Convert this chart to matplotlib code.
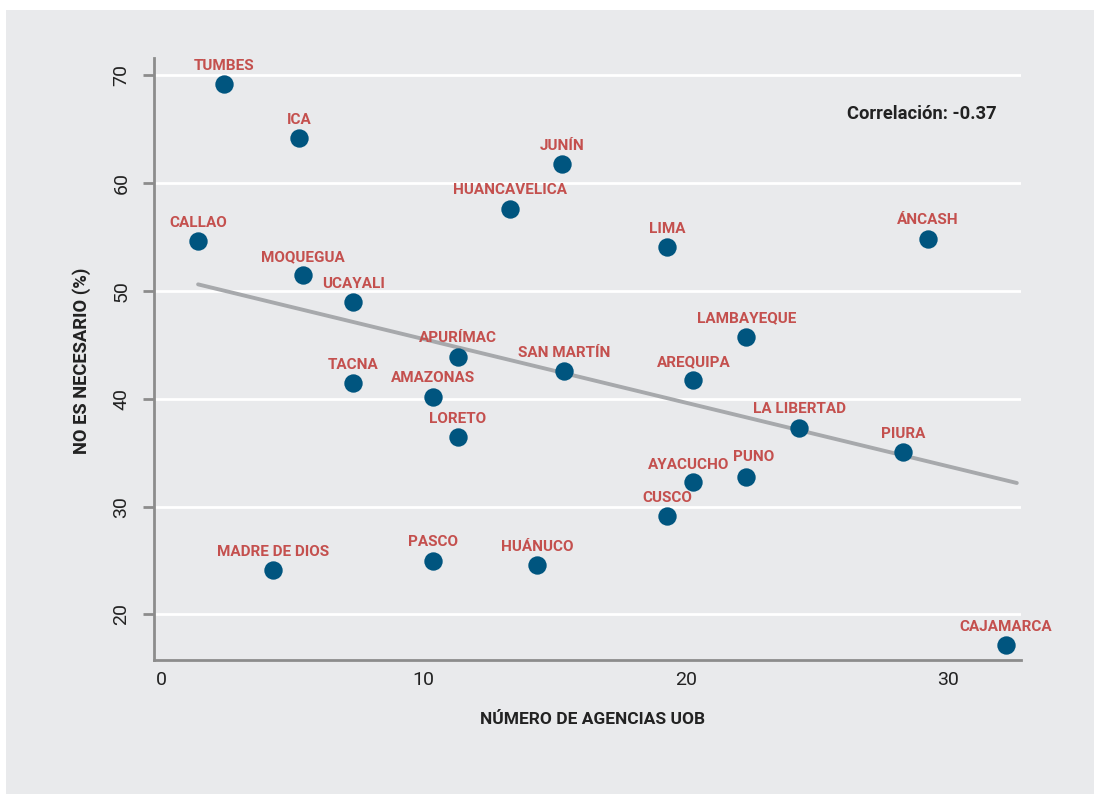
import numpy as np
import matplotlib
matplotlib.use("Agg")
import matplotlib.pyplot as plt
from matplotlib.patches import Rectangle

# Datos
regiones = ["TUMBES", "ICA", "JUNÍN", "HUANCAVELICA", "CALLAO", "ÁNCASH", "LIMA",
            "MOQUEGUA", "UCAYALI", "LAMBAYEQUE", "APURÍMAC", "SAN MARTÍN", "AREQUIPA",
            "TACNA", "AMAZONAS", "LORETO", "LA LIBERTAD", "PIURA", "PUNO", "AYACUCHO",
            "CUSCO", "PASCO", "HUÁNUCO", "MADRE DE DIOS", "CAJAMARCA"]
agencias = [2.40, 5.26, 15.29, 13.28, 1.41, 29.21, 19.28,
            5.40, 7.33, 22.30, 11.30, 15.36, 20.28,
            7.33, 10.34, 11.30, 24.32, 28.27, 22.30, 20.28,
            19.28, 10.34, 14.32, 4.28, 32.19]
no_necesario = [69.14, 64.16, 61.72, 57.61, 54.59, 54.83, 54.06,
                51.44, 48.93, 45.75, 43.89, 42.57, 41.71,
                41.46, 40.19, 36.45, 37.31, 35.06, 32.71, 32.25,
                29.13, 24.99, 24.56, 24.12, 17.17]
correlacion = "-0.37"

FONDO = "#e9eaec"
ROJO = "#c4504e"
AZUL = "#00557f"
GRIS = "#8c8c8c"
fuente = ["Liberation Sans Narrow", "Roboto", "DejaVu Sans"]
plt.rcParams["font.family"] = fuente

# pequeños desplazamientos de etiquetas para que no choquen (en puntos)
ajustes = {"PUNO": (5, 1.5), "AYACUCHO": (-3.5, -0.5)}

fig = plt.figure(figsize=(10.94, 7.94), dpi=100)
fig.patch.set_facecolor("white")
fig.patches.append(Rectangle((6 / 1094, 0), 1, 1 - 10 / 794, transform=fig.transFigure,
                             facecolor=FONDO, edgecolor="none", zorder=-10))

ax = fig.add_axes([154 / 1094, 1 - 660 / 794, 867 / 1094, 602 / 794])
ax.set_facecolor(FONDO)
ax.set_xlim(-0.27, 32.76)
ax.set_ylim(15.78, 71.58)

ax.set_yticks([20, 30, 40, 50, 60, 70])
ax.set_xticks([0, 10, 20, 30])
ax.grid(axis="y", color="white", linewidth=2)
ax.set_axisbelow(True)

for lado in ["top", "right"]:
    ax.spines[lado].set_visible(False)
for lado in ["left", "bottom"]:
    ax.spines[lado].set_color(GRIS)
    ax.spines[lado].set_linewidth(2)

ax.tick_params(axis="y", length=8, width=2, color=GRIS, pad=9, labelsize=14,
               labelcolor="#222222", labelrotation=90)
for t in ax.get_yticklabels():
    t.set_va("center")
ax.tick_params(axis="x", length=0, pad=8, labelsize=14, labelcolor="#222222")

# Línea de tendencia
x = np.array(agencias)
y = np.array(no_necesario)
m, b = np.polyfit(x, y, 1)
xs = np.array([x.min(), 32.6])
ax.plot(xs, m * xs + b, color="#a7a9ac", linewidth=2.8, solid_capstyle="round", zorder=2)

ax.scatter(x, y, s=175, color=AZUL, zorder=3, linewidths=0)

for nombre, xi, yi in zip(regiones, agencias, no_necesario):
    dx, dy = ajustes.get(nombre, (0, 0))
    ax.annotate(nombre, (xi, yi), xytext=(dx, 10.4 + dy), textcoords="offset points",
                ha="center", va="baseline", color=ROJO, fontsize=11,
                fontweight="bold", zorder=4)

ax.text(0.972, 0.907, f"Correlación: {correlacion}", transform=ax.transAxes,
        ha="right", va="center", fontsize=13.2, fontweight="bold", color="#222222")

fig.text(82 / 1094, 1 - 361 / 794, "NO ES NECESARIO (%)", rotation=90,
         ha="center", va="center", fontsize=13.2, fontweight="bold", color="#222222")
fig.text(593 / 1094, 1 - 720 / 794, "NÚMERO DE AGENCIAS UOB",
         ha="center", va="center", fontsize=12.5, fontweight="bold", color="#222222")

fig.savefig("out.png", dpi=100, facecolor=fig.get_facecolor())
